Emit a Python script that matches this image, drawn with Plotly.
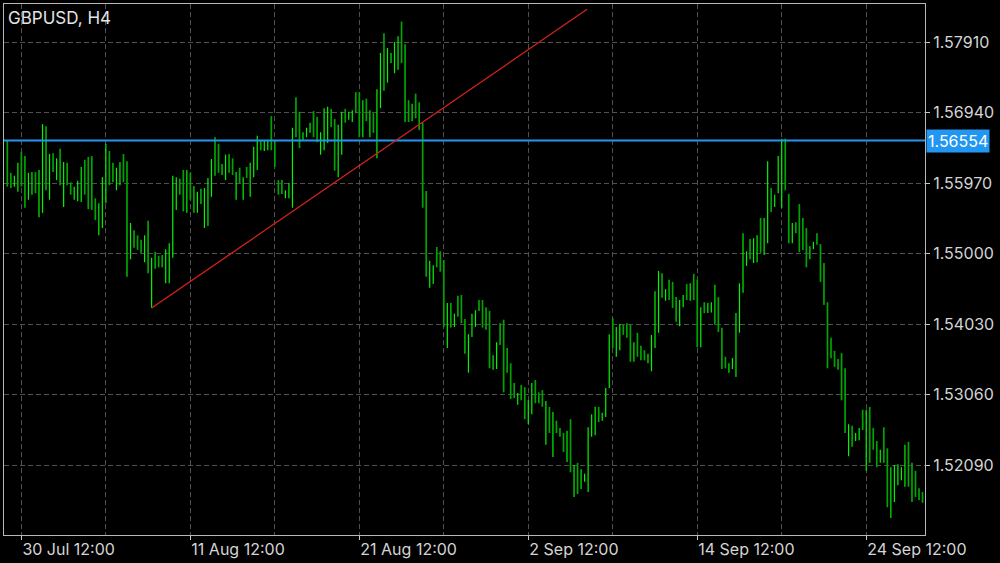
import plotly.graph_objects as go

# ---- data ----
high = [
    1.5655, 1.5611, 1.5607, 1.5625, 1.5640, 1.5634, 1.5611, 1.5612, 1.5612, 1.5615,
    1.5678, 1.5675, 1.5637, 1.5638, 1.5631, 1.5644, 1.5626, 1.5625, 1.5598, 1.5592,
    1.5600, 1.5619, 1.5629, 1.5633, 1.5634, 1.5576, 1.5569, 1.5605, 1.5651, 1.5641,
    1.5625, 1.5618, 1.5626, 1.5637, 1.5627, 1.5542, 1.5532, 1.5525, 1.5519, 1.5525,
    1.5545, 1.5494, 1.5502, 1.5497, 1.5498, 1.5506, 1.5514, 1.5607, 1.5605, 1.5603,
    1.5615, 1.5615, 1.5611, 1.5593, 1.5585, 1.5589, 1.5590, 1.5604, 1.5630, 1.5660,
    1.5651, 1.5623, 1.5636, 1.5637, 1.5631, 1.5612, 1.5618, 1.5605, 1.5619, 1.5625,
    1.5647, 1.5662, 1.5656, 1.5656, 1.5656, 1.5689, 1.5656, 1.5601, 1.5601, 1.5587,
    1.5597, 1.5673, 1.5715, 1.5695, 1.5667, 1.5673, 1.5680, 1.5696, 1.5688, 1.5667,
    1.5700, 1.5702, 1.5699, 1.5685, 1.5677, 1.5695, 1.5699, 1.5695, 1.5697, 1.5722,
    1.5722, 1.5711, 1.5713, 1.5697, 1.5693, 1.5726, 1.5776, 1.5803, 1.5783, 1.5776,
    1.5791, 1.5799, 1.5819, 1.5788, 1.5711, 1.5706, 1.5720, 1.5708, 1.5680, 1.5586,
    1.5490, 1.5484, 1.5509, 1.5503, 1.5491, 1.5432, 1.5432, 1.5417, 1.5442, 1.5443,
    1.5410, 1.5389, 1.5417, 1.5422, 1.5436, 1.5436, 1.5426, 1.5421, 1.5360, 1.5378,
    1.5404, 1.5409, 1.5370, 1.5349, 1.5322, 1.5308, 1.5319, 1.5316, 1.5298, 1.5322,
    1.5326, 1.5309, 1.5312, 1.5297, 1.5289, 1.5282, 1.5270, 1.5260, 1.5253, 1.5256,
    1.5272, 1.5209, 1.5212, 1.5203, 1.5197, 1.5261, 1.5279, 1.5289, 1.5289, 1.5281,
    1.5315, 1.5389, 1.5411, 1.5399, 1.5403, 1.5402, 1.5404, 1.5402, 1.5378, 1.5391,
    1.5373, 1.5367, 1.5362, 1.5388, 1.5448, 1.5476, 1.5473, 1.5451, 1.5464, 1.5461,
    1.5440, 1.5436, 1.5443, 1.5458, 1.5459, 1.5472, 1.5464, 1.5426, 1.5433, 1.5432,
    1.5433, 1.5457, 1.5440, 1.5398, 1.5358, 1.5349, 1.5356, 1.5418, 1.5459, 1.5528,
    1.5503, 1.5520, 1.5521, 1.5525, 1.5549, 1.5549, 1.5627, 1.5590, 1.5581, 1.5634,
    1.5658, 1.5658, 1.5582, 1.5542, 1.5543, 1.5568, 1.5549, 1.5535, 1.5510, 1.5516,
    1.5528, 1.5513, 1.5487, 1.5433, 1.5384, 1.5366, 1.5355, 1.5363, 1.5342, 1.5265,
    1.5263, 1.5253, 1.5260, 1.5285, 1.5285, 1.5289, 1.5260, 1.5242, 1.5230, 1.5261,
    1.5232, 1.5206, 1.5209, 1.5210, 1.5206, 1.5237, 1.5241, 1.5212, 1.5201, 1.5177,
    1.5172,
]
low = [
    1.5592, 1.5590, 1.5592, 1.5585, 1.5592, 1.5563, 1.5574, 1.5581, 1.5583, 1.5550,
    1.5556, 1.5587, 1.5574, 1.5612, 1.5601, 1.5594, 1.5564, 1.5594, 1.5581, 1.5574,
    1.5572, 1.5571, 1.5581, 1.5561, 1.5560, 1.5546, 1.5525, 1.5535, 1.5569, 1.5594,
    1.5598, 1.5587, 1.5594, 1.5598, 1.5468, 1.5492, 1.5508, 1.5505, 1.5501, 1.5488,
    1.5473, 1.5425, 1.5479, 1.5481, 1.5481, 1.5459, 1.5459, 1.5494, 1.5560, 1.5581,
    1.5558, 1.5556, 1.5574, 1.5556, 1.5556, 1.5568, 1.5535, 1.5538, 1.5578, 1.5607,
    1.5611, 1.5608, 1.5601, 1.5611, 1.5608, 1.5574, 1.5597, 1.5574, 1.5604, 1.5578,
    1.5605, 1.5615, 1.5642, 1.5641, 1.5642, 1.5642, 1.5619, 1.5581, 1.5582, 1.5576,
    1.5576, 1.5563, 1.5660, 1.5645, 1.5656, 1.5660, 1.5666, 1.5660, 1.5653, 1.5636,
    1.5642, 1.5652, 1.5674, 1.5614, 1.5605, 1.5636, 1.5680, 1.5684, 1.5681, 1.5693,
    1.5660, 1.5660, 1.5682, 1.5660, 1.5666, 1.5631, 1.5700, 1.5724, 1.5735, 1.5762,
    1.5748, 1.5753, 1.5762, 1.5681, 1.5681, 1.5682, 1.5686, 1.5670, 1.5563, 1.5468,
    1.5453, 1.5458, 1.5481, 1.5475, 1.5399, 1.5370, 1.5398, 1.5399, 1.5413, 1.5404,
    1.5362, 1.5336, 1.5385, 1.5399, 1.5421, 1.5398, 1.5395, 1.5342, 1.5340, 1.5341,
    1.5374, 1.5309, 1.5336, 1.5300, 1.5301, 1.5292, 1.5298, 1.5272, 1.5265, 1.5279,
    1.5294, 1.5294, 1.5289, 1.5237, 1.5253, 1.5220, 1.5253, 1.5248, 1.5227, 1.5213,
    1.5199, 1.5165, 1.5169, 1.5176, 1.5186, 1.5172, 1.5248, 1.5250, 1.5268, 1.5270,
    1.5275, 1.5315, 1.5370, 1.5358, 1.5367, 1.5388, 1.5384, 1.5351, 1.5351, 1.5358,
    1.5353, 1.5353, 1.5349, 1.5338, 1.5370, 1.5391, 1.5439, 1.5435, 1.5436, 1.5425,
    1.5406, 1.5400, 1.5426, 1.5436, 1.5435, 1.5436, 1.5371, 1.5371, 1.5418, 1.5418,
    1.5419, 1.5402, 1.5392, 1.5341, 1.5342, 1.5336, 1.5341, 1.5330, 1.5391, 1.5446,
    1.5483, 1.5492, 1.5487, 1.5488, 1.5501, 1.5498, 1.5514, 1.5557, 1.5564, 1.5583,
    1.5563, 1.5587, 1.5514, 1.5514, 1.5528, 1.5502, 1.5505, 1.5481, 1.5492, 1.5506,
    1.5512, 1.5461, 1.5429, 1.5342, 1.5356, 1.5344, 1.5340, 1.5298, 1.5253, 1.5221,
    1.5234, 1.5242, 1.5243, 1.5257, 1.5201, 1.5212, 1.5230, 1.5206, 1.5212, 1.5212,
    1.5151, 1.5136, 1.5158, 1.5181, 1.5188, 1.5179, 1.5179, 1.5158, 1.5165, 1.5161,
    1.5157,
]
# u = bullish (bright) bar, d = bearish (dark) bar
direction = (
    "dduudduudu" "ududududdu" "uudddduuud" "duuddudddu" "duddduuuud"
    "dudduduuud" "duuddududu" "uuduuddddu" "uudduuuddu" "uudduuduud"
    "dududuuduu" "uudddudddd" "uudddududd" "duuudddduu" "dddddudduu"
    "dddududddu" "duduuuuudu" "uuduudddud" "dduuuududd" "duududdudu"
    "udddduuuuu" "uduuduuduu" "uddudddduu" "dddddddddu" "duududddud"
    "duuuuudddd" "d"
)
assert len(high) == len(low) == len(direction)

x_tick_bars = [4, 52, 100, 148, 196, 244]
x_tick_labels = ["30 Jul 12:00", "11 Aug 12:00", "21 Aug 12:00",
                 "2 Sep 12:00", "14 Sep 12:00", "24 Sep 12:00"]
x_minor_bars = [28, 76, 124, 172, 220]
y_ticks = [1.52090, 1.53060, 1.54030, 1.55000, 1.55970, 1.56940, 1.57910]

price_level = 1.56554
trend_x = [41, 164.7]
trend_y = [1.5425, 1.5836]

symbol_title = "GBPUSD, H4"

# ---- build ----
bars = list(range(len(high)))
opens = [lo if d == "u" else hi for hi, lo, d in zip(high, low, direction)]
closes = [hi if d == "u" else lo for hi, lo, d in zip(high, low, direction)]

FONT = "Inter, 'Liberation Sans', Arial, sans-serif"
GRID = "#505050"
TXT = "#d4d4d4"
X0, X1 = -0.94, 260.7

fig = go.Figure()
fig.add_trace(go.Ohlc(
    x=bars, open=opens, high=high, low=low, close=closes,
    tickwidth=0,
    increasing=dict(line=dict(color="#00f500", width=1.2)),
    decreasing=dict(line=dict(color="#00a400", width=1.7)),
    showlegend=False, hoverinfo="skip",
))
fig.add_trace(go.Scatter(
    x=[X0, X1], y=[price_level, price_level], mode="lines",
    line=dict(color="#2196f3", width=2), showlegend=False, hoverinfo="skip",
))
fig.add_trace(go.Scatter(
    x=trend_x, y=trend_y, mode="lines",
    line=dict(color="#d4231a", width=1.3), showlegend=False, hoverinfo="skip",
))

fig.add_annotation(
    x=1, xref="paper", y=price_level, yref="y", xanchor="left", yanchor="middle",
    text=f"{price_level:.5f}", showarrow=False, xshift=1,
    bgcolor="#2196f3", borderpad=1,
    font=dict(family=FONT, size=16, color="#ffffff"),
)
fig.add_annotation(
    x=0, xref="paper", y=1, yref="paper", xanchor="left", yanchor="top",
    text=symbol_title, showarrow=False, xshift=2, yshift=-2,
    font=dict(family=FONT, size=17, color="#e4e4e4"),
)

fig.update_layout(
    width=1000, height=563,
    margin=dict(l=4, r=75, t=4, b=28, autoexpand=False),
    paper_bgcolor="#000000", plot_bgcolor="#000000",
    font=dict(family=FONT, size=16, color=TXT),
    xaxis=dict(
        range=[X0, X1], rangeslider=dict(visible=False), automargin=False,
        tickmode="array", tickvals=x_tick_bars, ticktext=x_tick_labels,
        ticklabelposition="outside right",
        ticks="outside", ticklen=4, tickcolor="#c8c8c8",
        showgrid=True, gridcolor=GRID, gridwidth=1, griddash="5px,3px",
        minor=dict(tickmode="array", tickvals=x_minor_bars, showgrid=True,
                   gridcolor=GRID, gridwidth=1, griddash="5px,3px", ticks=""),
        showline=True, linecolor="#b8b8b8", linewidth=1, mirror=True,
        zeroline=False, tickfont=dict(family=FONT, size=16, color=TXT),
    ),
    yaxis=dict(
        side="right", range=[1.51127, 1.58433], automargin=False,
        tickmode="array", tickvals=y_ticks, tickformat=".5f",
        ticks="outside", ticklen=4, tickcolor="#c8c8c8",
        showgrid=True, gridcolor=GRID, gridwidth=1, griddash="5px,3px",
        showline=True, linecolor="#b8b8b8", linewidth=1, mirror=True,
        zeroline=False, tickfont=dict(family=FONT, size=16, color=TXT),
    ),
)

fig.write_html(
    "out.html",
    config={"displayModeBar": False},
    post_script="document.body.style.margin='0';document.body.style.background='#000';",
)
